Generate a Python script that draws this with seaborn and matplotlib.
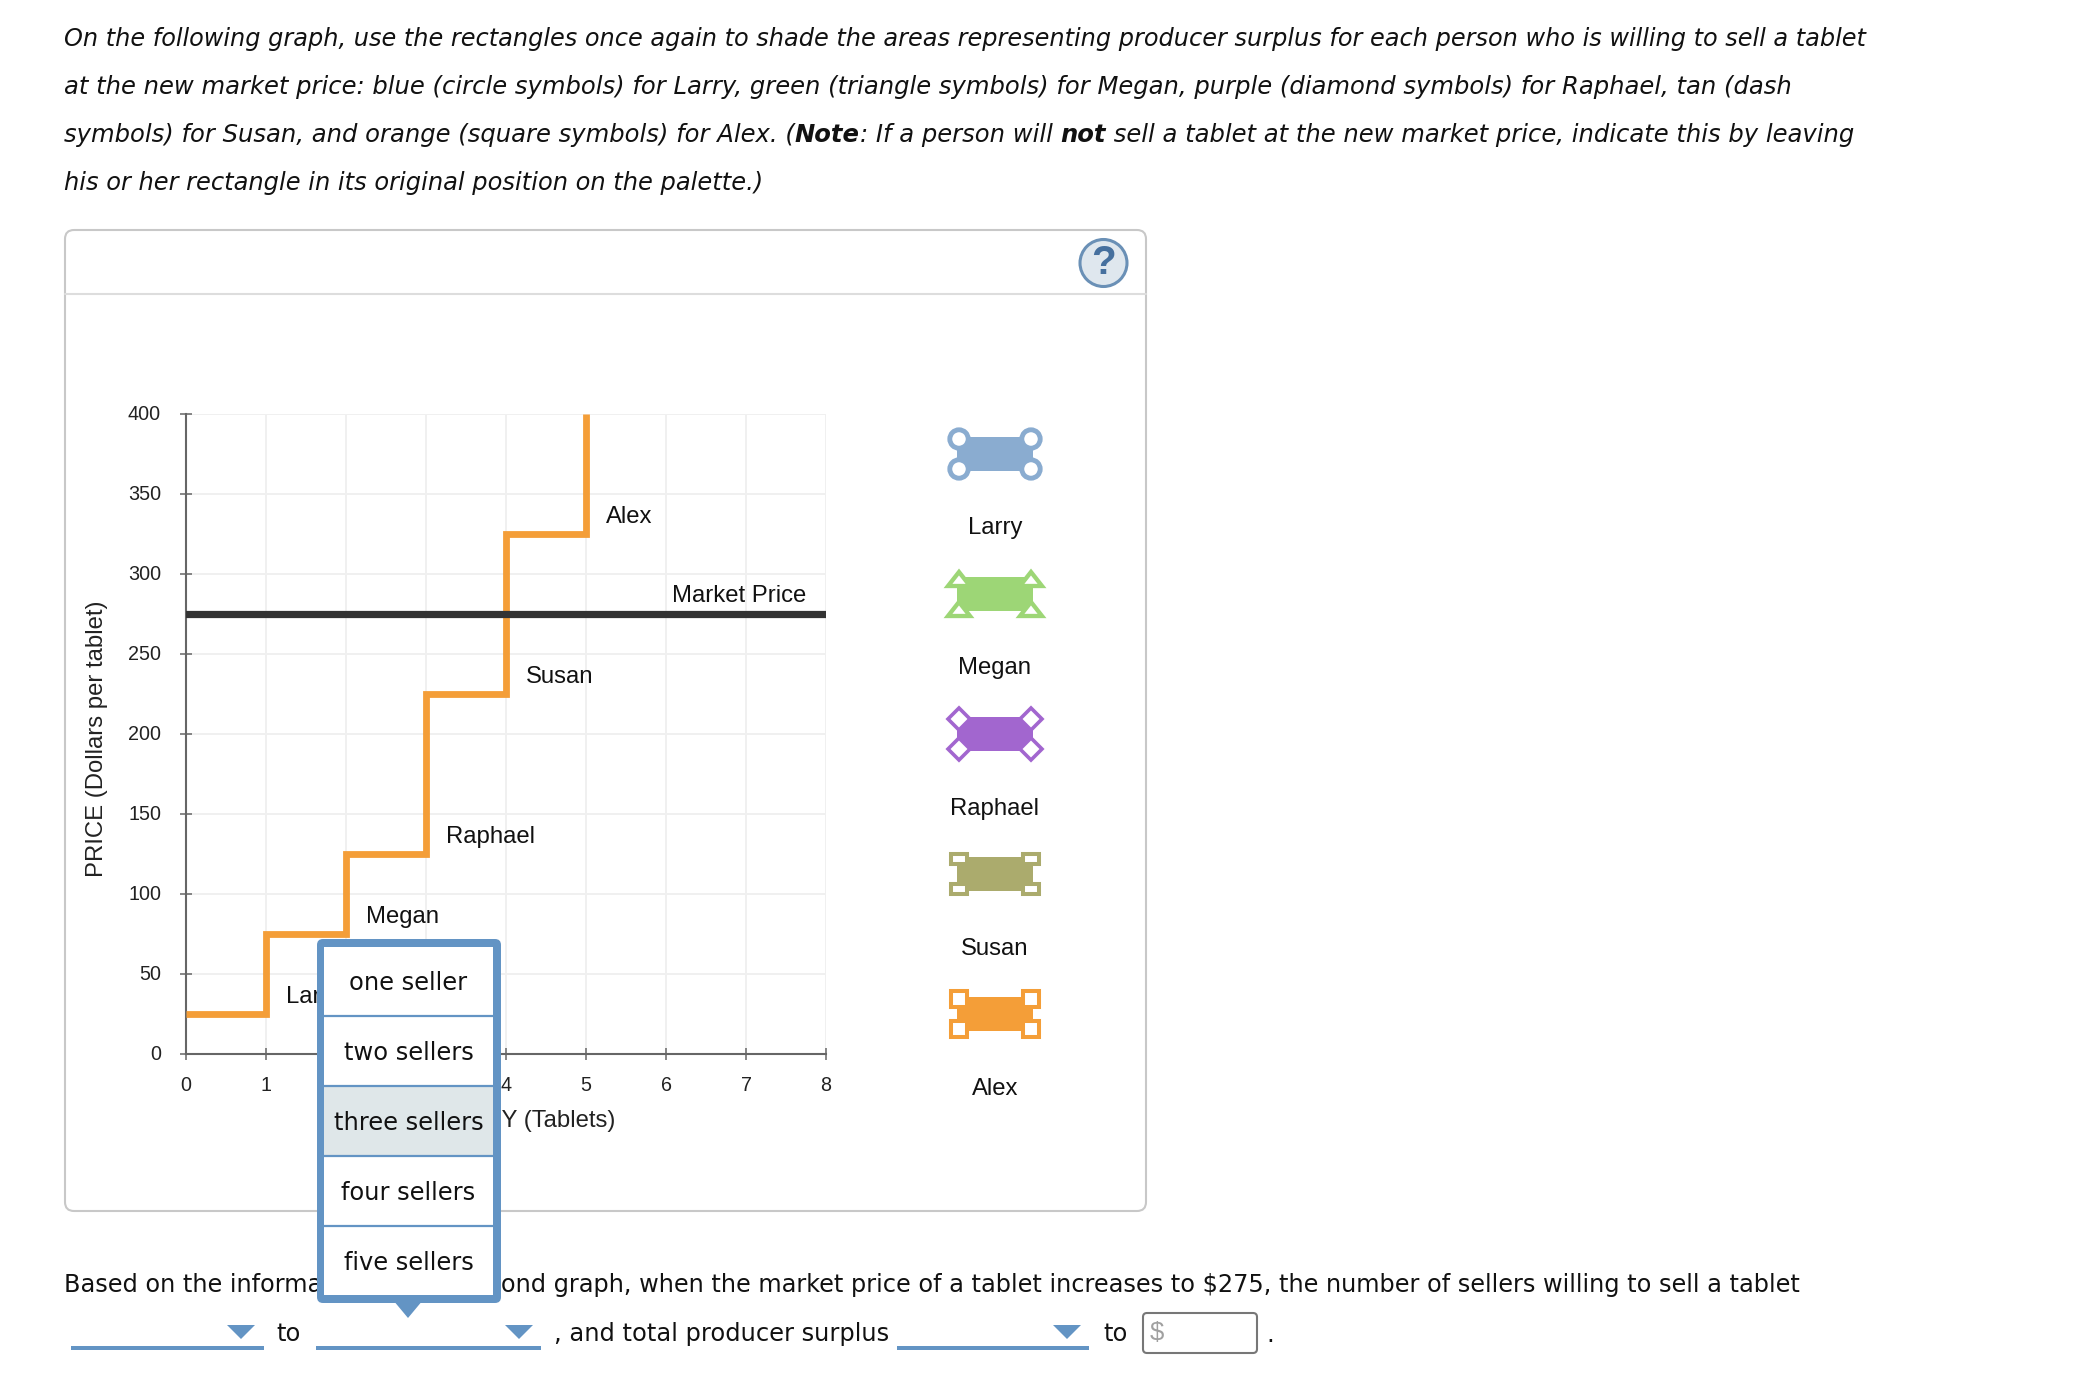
import matplotlib
matplotlib.use("Agg")
import matplotlib.pyplot as plt
from matplotlib.patches import Rectangle, FancyBboxPatch, Polygon, Circle
from matplotlib.transforms import ScaledTranslation
import seaborn as sns
import pandas as pd

W, H = 2094, 1398
quantity = [0, 1, 2, 3, 4, 5]
price = [25, 75, 125, 225, 325, 400]
market_price = 275
sellers = ["Larry", "Megan", "Raphael", "Susan", "Alex"]
seller_q = [1.25, 2.25, 3.25, 4.25, 5.25]
seller_p = [35.5, 85.5, 135.5, 235.5, 335.5]
x_ticks = list(range(0, 9))
y_ticks = list(range(0, 401, 50))
colors = ["#8aacd0", "#9dd676", "#a266cf", "#abab6d", "#f49e38"]
menu_items = ["one seller", "two sellers", "three sellers", "four sellers", "five sellers"]

sns.set_theme(style="white")
fig = plt.figure(figsize=(W / 100, H / 100), dpi=100, facecolor="white")
ARIAL = "Liberation Sans"
VERD = "DejaVu Sans"
LBL = 17.2

ax = fig.add_axes([186 / W, 1 - 1054 / H, 640 / W, 640 / H], zorder=2)
ax.patch.set_alpha(0)
df = pd.DataFrame({"q": quantity, "p": price})
sns.lineplot(data=df, x="q", y="p", drawstyle="steps-post", color="#f49e38", lw=4.9, ax=ax,
             solid_joinstyle="miter", solid_capstyle="butt", zorder=3, errorbar=None)
ax.axhline(market_price, color="#333333", lw=5.2, zorder=4)
ax.set_xlim(0, 8)
ax.set_ylim(0, 400)
ax.set_xticks(x_ticks)
ax.set_yticks(y_ticks)
ax.grid(True, color="#f0f0f0", lw=1.4)
ax.set_axisbelow(True)
for s in ["top", "right"]:
    ax.spines[s].set_visible(False)
for s in ["left", "bottom"]:
    ax.spines[s].set_color("#666666")
    ax.spines[s].set_linewidth(1.5)
ax.tick_params(axis="both", direction="inout", length=8, width=1.1, color="#666666",
               labelcolor="#222222", labelsize=14.2, labelfontfamily=ARIAL, left=True, bottom=True)
ax.tick_params(axis="x", pad=12)
ax.tick_params(axis="y", pad=14)
shift = ScaledTranslation(0, 1.5 / 100, fig.dpi_scale_trans)
for t in ax.get_yticklabels():
    t.set_transform(t.get_transform() + shift)
ax.set_xlabel("QUANTITY (Tablets)", fontfamily=ARIAL, fontsize=LBL, color="#222222", labelpad=11)
ax.set_ylabel("PRICE (Dollars per tablet)", fontfamily=ARIAL, fontsize=LBL, color="#222222", labelpad=14.5, y=0.493)
for n, q, p in zip(sellers, seller_q, seller_p):
    ax.text(q, p, n, fontfamily=ARIAL, fontsize=LBL, color="#111111", va="center", ha="left")
ax.text(6.91, 286, "Market Price", fontfamily=ARIAL, fontsize=LBL, color="#111111", va="center", ha="center")

# page furniture, in pixel coordinates
ui = fig.add_axes([0, 0, 1, 1], zorder=5)
ui.set_xlim(0, W)
ui.set_ylim(H, 0)
ui.axis("off")
ui.patch.set_alpha(0)

panel = FancyBboxPatch((65, 230), 1081, 981, boxstyle="round,pad=0,rounding_size=9",
                       fc="none", ec="#c8c8c8", lw=1.5, zorder=1)
ui.add_patch(panel)
ui.plot([65, 1146], [294, 294], color="#dddddd", lw=1.5, zorder=1)
ui.add_patch(Circle((1103.5, 263), 23.5, fc="#dfe7ee", ec="#6a90b6", lw=2.2, zorder=2))
ui.text(1103.5, 263, "?", fontfamily=ARIAL, fontweight="bold", fontsize=29, color="#46709e",
        ha="center", va="center", zorder=3)

# instruction text
lines = [
    [("On the following graph, use the rectangles once again to shade the areas representing producer surplus for each person who is willing to sell a tablet", "normal")],
    [("at the new market price: blue (circle symbols) for Larry, green (triangle symbols) for Megan, purple (diamond symbols) for Raphael, tan (dash", "normal")],
    [("symbols) for Susan, and orange (square symbols) for Alex. (", "normal"), ("Note", "bold"),
     (": If a person will ", "normal"), ("not", "bold"), (" sell a tablet at the new market price, indicate this by leaving", "normal")],
    [("his or her rectangle in its original position on the palette.)", "normal")],
]
line_y = [39, 87, 135, 183]
line_size = [17.31, 17.48, 17.49, 17.42]
TXT = 17.35
fig.canvas.draw()
r = fig.canvas.get_renderer()
for segs, y, size in zip(lines, line_y, line_size):
    x = 64
    for s, w in segs:
        t = ui.text(x, y, s.replace(" ", "\u00a0"), fontfamily=VERD, fontstyle="italic", fontweight=w, fontsize=size,
                    color="#111111", va="center", ha="left")
        x += t.get_window_extent(r).width

ui.text(64, 1285, "Based on the information on the second graph, when the market price of a tablet increases to $275, the number of sellers willing to sell a tablet",
        fontfamily=VERD, fontsize=17.27, color="#111111", va="center", zorder=1)
ui.text(276, 1334, "to", fontfamily=VERD, fontsize=TXT, color="#111111", va="center")
ui.text(554, 1334, ", and total producer surplus", fontfamily=VERD, fontsize=TXT, color="#111111", va="center")
ui.text(1103, 1334, "to", fontfamily=VERD, fontsize=TXT, color="#111111", va="center")
ui.text(1266, 1335, ".", fontfamily=VERD, fontsize=TXT, color="#111111", va="center")
BLUE = "#6394c4"
for x0, x1, tri in [(71, 264, 241), (316, 541, 519), (897, 1089, 1067)]:
    ui.add_patch(Rectangle((x0, 1346), x1 - x0, 4, fc=BLUE, ec="none"))
    ui.add_patch(Polygon([(tri - 14, 1325), (tri + 14, 1325), (tri, 1339)], fc=BLUE, ec="none"))
ui.add_patch(FancyBboxPatch((1143, 1313), 114, 40, boxstyle="round,pad=0,rounding_size=4", fc="white", ec="#777777", lw=1.5))
ui.text(1150, 1333, "$", fontfamily=ARIAL, fontsize=18.5, color="#a0a0a0", va="center")

# palette
centers = [454, 594, 734, 874, 1014]
label_y = [528, 668, 809, 949, 1089]
for name, col, c, ly in zip(sellers, colors, centers, label_y):
    ui.add_patch(Rectangle((957, c - 17), 76, 34, fc=col, ec="none", zorder=2))
    for cx in (959, 1031):
        for cy in (c - 15, c + 15):
            if name == "Larry":
                ui.add_patch(Circle((cx, cy), 9.2, fc="white", ec=col, lw=3.5, zorder=3))
            elif name == "Megan":
                ui.add_patch(Polygon([(cx - 11, cy + 7), (cx + 11, cy + 7), (cx, cy - 7)], fc="white", ec=col, lw=3.1, zorder=3))
            elif name == "Raphael":
                ui.add_patch(Polygon([(cx - 11, cy), (cx, cy - 11), (cx + 11, cy), (cx, cy + 11)], fc="white", ec=col, lw=2.6, zorder=3))
            elif name == "Susan":
                ui.add_patch(Rectangle((cx - 8, cy - 5), 16, 10, fc="white", ec=col, lw=2.9, zorder=3))
            else:
                ui.add_patch(Rectangle((cx - 8, cy - 8), 16, 16, fc="white", ec=col, lw=2.9, zorder=3))
    ui.text(995, ly, name, fontfamily=ARIAL, fontsize=LBL, color="#111111", ha="center", va="center", zorder=3)

# open dropdown
ui.add_patch(Polygon([(393, 1300), (423, 1300), (408, 1318)], fc=BLUE, ec="none", zorder=6))
ui.add_patch(FancyBboxPatch((317, 939), 184, 364, boxstyle="round,pad=0,rounding_size=6", fc=BLUE, ec="none", zorder=6))
row_edges = [947, 1016, 1086, 1156, 1226, 1295]
for i, item in enumerate(menu_items):
    top, bot = row_edges[i], row_edges[i + 1]
    fc = "#dfe7e9" if item == "three sellers" else "white"
    ui.add_patch(Rectangle((324, top + (1 if i else 0)), 169, bot - top - (1 if i else 0), fc=fc, ec="none", zorder=7))
    if i:
        ui.plot([324, 493], [top, top], color=BLUE, lw=1.6, zorder=8)
    ui.text(408.5, (top + bot) / 2 + 2, item, fontfamily=VERD, fontsize=TXT, color="#111111",
            ha="center", va="center", zorder=9)

fig.savefig("out.png", dpi=100)
